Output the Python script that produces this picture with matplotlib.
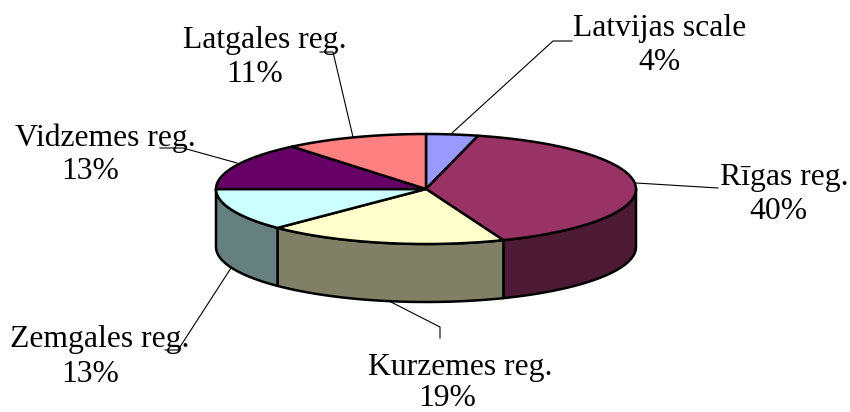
import numpy as np
import matplotlib.pyplot as plt
from matplotlib.patches import Polygon

labels = ['Latvijas scale', 'Rīgas reg.', 'Kurzemes reg.', 'Zemgales reg.', 'Vidzemes reg.', 'Latgales reg.']
pct_labels = ['4%', '40%', '19%', '13%', '13%', '11%']
# slice sizes as they look in the picture, the printed labels are rounded
values = [4, 40, 18.5, 12.5, 14, 11]
top_colors = ['#9999ff', '#993366', '#ffffcc', '#ccffff', '#660066', '#ff8080']
side_colors = ['#6b6bb3', '#4d1a33', '#808066', '#668080', '#330033', '#804040']
name_pos = [(660, 28), (784, 177), (460, 367), (100, 339), (105, 138), (265, 40)]
pct_pos = [(660, 62), (778, 211), (447, 398), (90, 374), (90, 171), (255, 74)]
leader_lines = [[(452, 133), (553, 41), (572, 41)],
                [(636, 183), (718, 188)],
                [(387, 300), (440, 327), (440, 338)],
                [(231, 268), (178, 350), (165, 350)],
                [(237, 163), (183, 148), (160, 148)],
                [(353, 137), (333, 52), (320, 52)]]

cx, cy, rx, ry, depth = 426, 189, 210, 55, 58


def pt(a):
    # angle in degrees, clockwise from the top of the ellipse
    r = np.radians(a)
    return cx + rx * np.sin(r), cy - ry * np.cos(r)


plt.rcParams['font.family'] = ['Liberation Serif', 'DejaVu Serif']
fig = plt.figure(figsize=(8.5, 4.12), dpi=100)
ax = fig.add_axes([0, 0, 1, 1])
ax.set_xlim(0, 850)
ax.set_ylim(412, 0)
ax.axis('off')

edges = np.cumsum([0] + values) * 3.6

for line in leader_lines:
    xs, ys = zip(*line)
    ax.plot(xs, ys, color='black', lw=0.8, zorder=1)

# outer wall, only the front half of the ellipse shows
for i in range(len(values)):
    a0, a1 = max(edges[i], 90), min(edges[i + 1], 270)
    if a1 <= a0:
        continue
    t = np.linspace(a0, a1, 60)
    x, y = pt(t)
    wall = np.column_stack([np.r_[x, x[::-1]], np.r_[y, y[::-1] + depth]])
    ax.add_patch(Polygon(wall, fc=side_colors[i], ec='black', lw=1.8, joinstyle='round', zorder=2))

for i in range(len(values)):
    t = np.linspace(edges[i], edges[i + 1], 80)
    x, y = pt(t)
    top = np.column_stack([np.r_[cx, x], np.r_[cy, y]])
    ax.add_patch(Polygon(top, fc=top_colors[i], ec='black', lw=1.8, joinstyle='round', zorder=3))

for name, pct, np_, pp in zip(labels, pct_labels, name_pos, pct_pos):
    ax.text(np_[0], np_[1], name, fontsize=22.8, ha='center', va='center', color='black', zorder=4)
    ax.text(pp[0], pp[1], pct, fontsize=22.8, ha='center', va='center', color='black', zorder=4)

fig.savefig('out.png', dpi=100)
